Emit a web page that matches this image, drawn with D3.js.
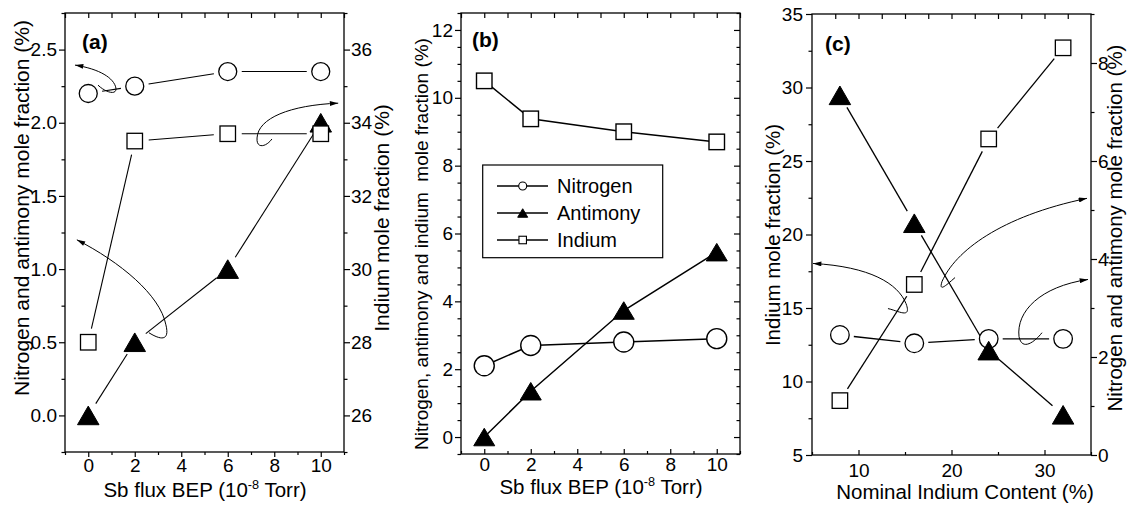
<!DOCTYPE html>
<html><head><meta charset="utf-8">
<script src="https://cdn.jsdelivr.net/npm/d3@7"></script>
<style>html,body{margin:0;padding:0;background:#fff;}</style>
</head><body>
<svg id="chart" width="1136" height="506"></svg>
<script>
// ---------- DATA ----------
const aX = [0, 2, 6, 10];
const aNitrogen = [2.2, 2.25, 2.35, 2.35];     // left axis
const aAntimony = [0.0, 0.5, 1.0, 2.0];        // left axis
const aIndium = [28.0, 33.5, 33.7, 33.7];      // right axis

const bX = [0, 2, 6, 10];
const bNitrogen = [2.1, 2.7, 2.8, 2.9];
const bAntimony = [0.0, 1.35, 3.73, 5.45];
const bIndium = [10.5, 9.38, 9.0, 8.7];

const cX = [8, 16, 24, 32];
const cIndium = [8.7, 16.6, 26.5, 32.7];       // left axis
const cNitrogen = [2.45, 2.28, 2.37, 2.37];    // right axis
const cAntimony = [7.34, 4.73, 2.13, 0.82];    // right axis

const legendLabels = ["Nitrogen", "Antimony", "Indium"];
const legendSymbols = ["circle", "triangle", "square"];

// tick values
const aXTicks = [0, 2, 4, 6, 8, 10];
const aXMinor = [-1, 1, 3, 5, 7, 9, 11];
const aLeftTicks = [0, 0.5, 1.0, 1.5, 2.0, 2.5];
const aLeftMinor = [-0.25, 0.25, 0.75, 1.25, 1.75, 2.25, 2.75];
const aRightTicks = [26, 28, 30, 32, 34, 36];
const aRightMinor = [25, 27, 29, 31, 33, 35, 37];

const bXTicks = [0, 2, 4, 6, 8, 10];
const bXMinor = [-1, 1, 3, 5, 7, 9, 11];
const bYTicks = [0, 2, 4, 6, 8, 10, 12];
const bYMinor = [-0.5, 0.5, 1, 1.5, 2.5, 3, 3.5, 4.5, 5, 5.5, 6.5, 7, 7.5, 8.5, 9, 9.5, 10.5, 11, 11.5, 12.5];

const cXTicks = [10, 20, 30];
const cXMinor = [5, 15, 25, 35];
const cXTopTicks = [7.5, 10, 12.5, 15, 17.5, 20, 22.5, 25, 27.5, 30, 32.5];
const cLeftTicks = [5, 10, 15, 20, 25, 30, 35];
const cLeftMinor = [7.5, 12.5, 17.5, 22.5, 27.5, 32.5];
const cRightTicks = [0, 2, 4, 6, 8];
const cRightMinor = [1, 3, 5, 7, 9];

// curved annotation arrows (data coordinates, cubic Bezier control points)
const aArrows = [
  [[0.42, 2.257], [0.72, 2.21], [1.23, 2.183], [1.19, 2.237], [1.11, 2.305], [0.50, 2.367], [-0.57, 2.394]],
  [[7.90, 1.889], [7.65, 1.834], [7.22, 1.82], [7.26, 1.896], [7.30, 2.032], [8.68, 2.12], [10.75, 2.134]],
  [[2.61, 0.565], [3.09, 0.517], [3.52, 0.503], [3.34, 0.619], [3.09, 0.824], [1.36, 1.049], [-0.49, 1.20]]
];
const cArrows = [
  [[13.17, 14.96], [14.25, 14.82], [15.75, 14.21], [15.11, 15.30], [14.25, 16.66], [11.24, 17.82], [5.11, 18.03]],
  [[20.38, 17.07], [19.62, 16.66], [18.55, 15.98], [18.98, 16.80], [20.38, 18.84], [25.22, 21.23], [34.57, 22.46]],
  [[29.73, 13.32], [28.98, 12.71], [27.58, 12.03], [27.26, 13.05], [26.94, 14.75], [29.52, 16.46], [34.68, 16.94]]
];

// ---------- DRAWING ----------
const FONT = "'Liberation Sans', Arial, Helvetica, sans-serif";
const svg = d3.select("#chart");
svg.append("rect").attr("width", 1136).attr("height", 506).attr("fill", "#fff");

svg.append("defs").append("marker")
  .attr("id", "ah").attr("viewBox", "0 0 10 6").attr("refX", 10).attr("refY", 3)
  .attr("markerWidth", 9).attr("markerHeight", 5).attr("markerUnits", "userSpaceOnUse")
  .attr("orient", "auto")
  .append("path").attr("d", "M0,0L10,3L0,6Z").attr("fill", "#000");

function axis(g, gen, scale, ticks, size, pad, fmt, fs, tx, ty) {
  const ax = gen(scale).tickValues(ticks).tickSize(size).tickPadding(pad)
    .tickFormat(fmt || (() => ""));
  const sel = g.append("g").attr("transform", `translate(${tx},${ty})`).call(ax);
  sel.select(".domain").remove();
  sel.selectAll("line").attr("stroke", "#000").attr("stroke-width", 1.2);
  sel.selectAll("text").attr("font-size", fs).attr("font-family", FONT).attr("fill", "#000");
  return sel;
}

function frame(g, x0, x1, y0, y1) {
  g.append("rect").attr("x", x0).attr("y", y0).attr("width", x1 - x0).attr("height", y1 - y0)
    .attr("fill", "none").attr("stroke", "#000").attr("stroke-width", 1.3);
}

function symbol(g, type, cx, cy, s) {
  if (type === "circle") {
    g.append("circle").attr("cx", cx).attr("cy", cy).attr("r", s.r)
      .attr("fill", "#fff").attr("stroke", "#000").attr("stroke-width", s.sw);
  } else if (type === "square") {
    g.append("rect").attr("x", cx - s.sq / 2).attr("y", cy - s.sq / 2)
      .attr("width", s.sq).attr("height", s.sq)
      .attr("fill", "#fff").attr("stroke", "#000").attr("stroke-width", s.sw);
  } else {
    const w = s.tw, h = s.th;
    g.append("path").attr("d", `M${cx - w / 2},${cy + h / 2}L${cx + w / 2},${cy + h / 2}L${cx},${cy - h / 2}Z`)
      .attr("fill", "#000").attr("stroke", "#000").attr("stroke-width", 1);
  }
}

function gappedLines(g, xs, ys, xScale, yScale, gap, sw) {
  for (let i = 0; i < xs.length - 1; i++) {
    const x1 = xScale(xs[i]), y1 = yScale(ys[i]);
    const x2 = xScale(xs[i + 1]), y2 = yScale(ys[i + 1]);
    const d = Math.hypot(x2 - x1, y2 - y1);
    if (d <= 2 * gap) continue;
    const ux = (x2 - x1) / d, uy = (y2 - y1) / d;
    g.append("line")
      .attr("x1", x1 + ux * gap).attr("y1", y1 + uy * gap)
      .attr("x2", x2 - ux * gap).attr("y2", y2 - uy * gap)
      .attr("stroke", "#000").attr("stroke-width", sw);
  }
}

function fullLine(g, xs, ys, xScale, yScale, sw) {
  const line = d3.line().x((d, i) => xScale(xs[i])).y(d => yScale(d));
  g.append("path").attr("d", line(ys)).attr("fill", "none").attr("stroke", "#000").attr("stroke-width", sw);
}

function arrows(g, list, xScale, yScale) {
  list.forEach(pts => {
    const p = pts.map(q => [xScale(q[0]), yScale(q[1])]);
    const path = d3.path();
    path.moveTo(p[0][0], p[0][1]);
    path.bezierCurveTo(p[1][0], p[1][1], p[2][0], p[2][1], p[3][0], p[3][1]);
    path.bezierCurveTo(p[4][0], p[4][1], p[5][0], p[5][1], p[6][0], p[6][1]);
    g.append("path").attr("d", path.toString()).attr("fill", "none")
      .attr("stroke", "#000").attr("stroke-width", 1).attr("marker-end", "url(#ah)");
  });
}

function vTitle(g, text, x, y, fs) {
  g.append("text").attr("transform", `translate(${x},${y}) rotate(-90)`)
    .attr("text-anchor", "middle").attr("font-family", FONT).attr("font-size", fs)
    .attr("fill", "#000").text(text);
}

function fluxTitle(g, cx, y, fs) {
  const t = g.append("text").attr("x", cx).attr("y", y).attr("text-anchor", "middle")
    .attr("font-family", FONT).attr("font-size", fs).attr("fill", "#000");
  t.append("tspan").text("Sb flux BEP (10");
  t.append("tspan").attr("dy", -8).attr("font-size", fs * 0.62).text("-8");
  t.append("tspan").attr("dy", 8).text(" Torr)");
}

function panelLabel(g, text, x, y) {
  g.append("text").attr("x", x).attr("y", y).attr("font-family", FONT).attr("font-weight", "bold")
    .attr("font-size", 21).attr("fill", "#000").text(text);
}

const TF = 19; // tick font size
const symA = { r: 9, sq: 15.5, tw: 21.5, th: 18.6, sw: 1.3 };
const symB = { r: 10, sq: 15.5, tw: 21, th: 17.5, sw: 1.4 };
const symC = { r: 9.3, sq: 15.5, tw: 21.5, th: 18.6, sw: 1.3 };

// ---------- PANEL A ----------
{
  const L = 65, R = 344, T = 13, B = 452;
  const g = svg.append("g");
  const x = d3.scaleLinear().domain([-1, 11]).range([L, R]);
  const yl = d3.scaleLinear().domain([-0.25, 2.75]).range([B, T]);
  const yr = d3.scaleLinear().domain([25, 37]).range([B, T]);

  axis(g, d3.axisBottom, x, aXTicks, 5, 2, d3.format("d"), TF, 0, B);
  axis(g, d3.axisBottom, x, aXMinor, 3, 0, null, TF, 0, B);
  axis(g, d3.axisTop, x, aXTicks.concat(aXMinor), -5, 0, null, TF, 0, T);
  axis(g, d3.axisLeft, yl, aLeftTicks, 6, 2, d3.format(".1f"), TF, L, 0);
  axis(g, d3.axisLeft, yl, aLeftMinor, 3.5, 0, null, TF, L, 0);
  axis(g, d3.axisRight, yr, aRightTicks, 6, 1, d3.format("d"), TF, R, 0);
  axis(g, d3.axisRight, yr, aRightMinor, 3.5, 0, null, TF, R, 0);

  arrows(g, aArrows, x, yl);

  gappedLines(g, aX, aNitrogen, x, yl, 14, 1.1);
  gappedLines(g, aX, aAntimony, x, yl, 14, 1.1);
  gappedLines(g, aX, aIndium, x, yr, 14, 1.1);
  aX.forEach((v, i) => symbol(g, "circle", x(v), yl(aNitrogen[i]), symA));
  aX.forEach((v, i) => symbol(g, "triangle", x(v), yl(aAntimony[i]), symA));
  aX.forEach((v, i) => symbol(g, "square", x(v), yr(aIndium[i]), symA));

  frame(g, L, R, T, B);
  panelLabel(g, "(a)", 82, 49);
  vTitle(g, "Nitrogen and antimony mole fraction (%)", 29, 208, 21);
  vTitle(g, "Indium mole fraction (%)", 389, 218, 21);
  fluxTitle(g, 205, 497, 20.5);
}

// ---------- PANEL B ----------
{
  const L = 461, R = 740, T = 13, B = 454;
  const g = svg.append("g");
  const x = d3.scaleLinear().domain([-1, 11]).range([L, R]);
  const y = d3.scaleLinear().domain([-0.5, 12.5]).range([B, T]);

  axis(g, d3.axisBottom, x, bXTicks, -5, 3, d3.format("d"), TF, 0, B);
  axis(g, d3.axisBottom, x, bXMinor, -3, 0, null, TF, 0, B);
  axis(g, d3.axisTop, x, bXTicks.concat(bXMinor), -5, 0, null, TF, 0, T);
  axis(g, d3.axisLeft, y, bYTicks, 6, 2, d3.format("d"), TF, L, 0);
  axis(g, d3.axisLeft, y, bYMinor, 3.5, 0, null, TF, L, 0);
  axis(g, d3.axisRight, y, bYTicks, -6, 0, null, TF, R, 0);
  axis(g, d3.axisRight, y, bYMinor, -3.5, 0, null, TF, R, 0);

  fullLine(g, bX, bNitrogen, x, y, 1.5);
  fullLine(g, bX, bAntimony, x, y, 1.5);
  fullLine(g, bX, bIndium, x, y, 1.5);
  bX.forEach((v, i) => symbol(g, "circle", x(v), y(bNitrogen[i]), symB));
  bX.forEach((v, i) => symbol(g, "triangle", x(v), y(bAntimony[i]), symB));
  bX.forEach((v, i) => symbol(g, "square", x(v), y(bIndium[i]), symB));

  // legend
  const lg = g.append("g");
  lg.append("rect").attr("x", 482.7).attr("y", 165).attr("width", 180).attr("height", 92.7)
    .attr("fill", "#fff").attr("stroke", "#000").attr("stroke-width", 1.2);
  const symL = { r: 4, sq: 7.5, tw: 10, th: 8.5, sw: 1.1 };
  legendLabels.forEach((lab, i) => {
    const yy = 186 + i * 27;
    lg.append("line").attr("x1", 497).attr("x2", 548).attr("y1", yy).attr("y2", yy)
      .attr("stroke", "#000").attr("stroke-width", 1.3);
    symbol(lg, legendSymbols[i], 522.7, yy, symL);
    lg.append("text").attr("x", 557).attr("y", yy).attr("dy", "0.36em")
      .attr("font-family", FONT).attr("font-size", 20).attr("fill", "#000").text(lab);
  });

  frame(g, L, R, T, B);
  panelLabel(g, "(b)", 472, 47);
  vTitle(g, "Nitrogen, antimony and indium\u00a0 mole fraction (%)", 428, 244, 19);
  fluxTitle(g, 601, 494, 20.5);
}

// ---------- PANEL C ----------
{
  const L = 812, R = 1091, T = 14, B = 455;
  const g = svg.append("g");
  const x = d3.scaleLinear().domain([5, 35]).range([L, R]);
  const yl = d3.scaleLinear().domain([5, 35]).range([B, T]);
  const yr = d3.scaleLinear().domain([0, 9]).range([B, T]);

  axis(g, d3.axisBottom, x, cXTicks, -5, 9, d3.format("d"), TF, 0, B);
  axis(g, d3.axisBottom, x, cXMinor, -3, 0, null, TF, 0, B);
  axis(g, d3.axisTop, x, cXTopTicks, -5, 0, null, TF, 0, T);
  axis(g, d3.axisLeft, yl, cLeftTicks, 6, 3, d3.format("d"), TF, L, 0);
  axis(g, d3.axisLeft, yl, cLeftMinor, 3.5, 0, null, TF, L, 0);
  axis(g, d3.axisRight, yr, cRightTicks, 6, 1, d3.format("d"), TF, R, 0);
  axis(g, d3.axisRight, yr, cRightMinor, 3.5, 0, null, TF, R, 0);

  arrows(g, cArrows, x, yl);

  gappedLines(g, cX, cNitrogen, x, yr, 14, 1.3);
  gappedLines(g, cX, cAntimony, x, yr, 14, 1.3);
  gappedLines(g, cX, cIndium, x, yl, 14, 1.3);
  cX.forEach((v, i) => symbol(g, "circle", x(v), yr(cNitrogen[i]), symC));
  cX.forEach((v, i) => symbol(g, "triangle", x(v), yr(cAntimony[i]), symC));
  cX.forEach((v, i) => symbol(g, "square", x(v), yl(cIndium[i]), symC));

  frame(g, L, R, T, B);
  panelLabel(g, "(c)", 825, 51);
  vTitle(g, "Indium mole fraction (%)", 780, 235, 20.5);
  vTitle(g, "Nitrogen and antimony mole fraction (%)", 1122, 228, 20.5);
  g.append("text").attr("x", 965).attr("y", 499).attr("text-anchor", "middle")
    .attr("font-family", FONT).attr("font-size", 20.5).attr("fill", "#000")
    .text("Nominal Indium Content (%)");
}
</script>
</body></html>
